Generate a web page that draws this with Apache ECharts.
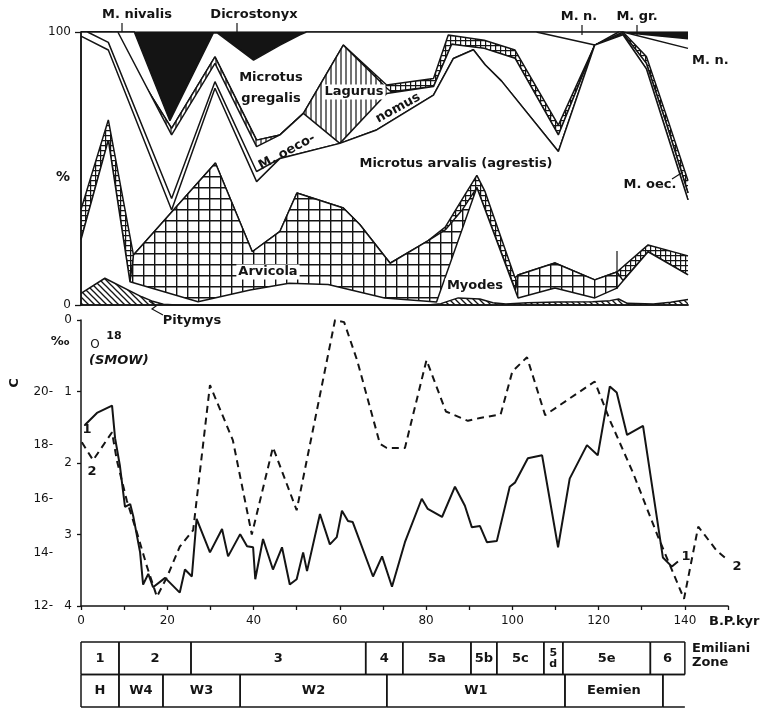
<!DOCTYPE html>
<html>
<head>
<meta charset="utf-8">
<script src="https://cdn.jsdelivr.net/npm/echarts@6/dist/echarts.min.js"></script>
<style>
  html, body { margin: 0; padding: 0; background: #fff; }
  #chart { width: 765px; height: 708px; }
</style>
</head>
<body>
<div id="chart"></div>
<script>
// ---------------------------------------------------------------------------
// Rodent assemblage (cumulative %, upper edge of each taxon) vs age in kyr B.P.
// ---------------------------------------------------------------------------
const cumPitymys = [[0,4.3],[5.5,9.8],[14,3],[16.3,1.5],[19,0.3],[22,0],[80,0],[83,0.5],[87,2.6],[92,2.2],[95,0.8],[98,0.4],[103,0.8],[110,1.1],[118,1.2],[122,1.6],[124,2.2],[126,0.6],[132,0.4],[136,1],[140,2]];
const cumMyodes = [[0,24],[6.3,60.4],[11.3,8.5],[27,1.2],[39,5.5],[48,8],[57,7.5],[70,2.6],[82,1.1],[91.3,43],[100.8,2.6],[109.3,6.2],[118.5,2.6],[123.6,6.2],[130.8,19.5],[140,11]];
const cumArvicola = [[0,24],[6.3,60.4],[11.3,8.5],[12.1,18.3],[31,52],[39.5,19.5],[45.9,27],[49.8,41],[60.5,35.5],[64.3,29.5],[71.3,15.3],[80,23.5],[84,27.5],[88,35],[91.3,43],[100.2,5.5],[100.8,11],[109.3,15.4],[118.5,9.2],[123.6,12.1],[125,9],[130.8,19.5],[140,11]];
const cumArvicolaBand = [[0,35],[6.3,67.8],[12.1,18.3],[31,52],[39.5,19.5],[45.9,27],[49.8,41],[60.5,35.5],[64.3,29.5],[71.3,15.3],[80,23.5],[84,28.5],[88,39],[91.3,47.5],[93.2,41.5],[100.1,10],[100.8,11],[109.3,15.4],[118.5,9.2],[123.6,12.1],[130.8,22],[140,18]];
const cumArvalis = [[0,98.5],[6.3,93.4],[20.9,34.8],[30.9,79.4],[40.5,45.2],[45.9,53.7],[59.7,59.2],[68,64],[81.3,76.9],[85.9,90.3],[90.5,93.5],[93.2,88],[97,82],[110.1,56.2],[118.5,95.2],[125,99],[130.4,86.5],[135.1,63],[140,38.5]];
const cumArvalisRim = [[0,100],[1.5,100],[6.3,96.2],[20.9,39],[30.9,81.8],[40.5,48.9],[45.9,53.7],[59.7,59.2],[68,64],[81.3,76.9],[85.9,90.3],[90.5,93.5],[93.2,88],[97,82],[110.1,56.2],[118.5,95.2],[125,99],[130.4,86.5],[135.1,63],[140,38.5]];
const cumOeconomus = [[0,100],[8.5,100],[20.9,62.3],[30.9,88.5],[40.5,58],[45.9,62.3],[51.3,70.2],[59.7,59.2],[70.5,77.5],[81.3,80],[85.5,95.5],[93,94],[100.1,90.4],[110.1,62.3],[118.5,95.2],[125,99.5],[130.4,88.5],[135.1,66],[140,41]];
const cumLagurus = [[0,100],[7,100],[20.9,64.7],[30.9,90.9],[40.5,60.4],[45.9,62.3],[51.3,70.2],[60.5,95.2],[70.5,79.5],[71.5,78.1],[81.3,80],[85.5,95.5],[93,94],[100.1,90.4],[110.1,62.3],[118.5,95.2],[125,99.5],[130.4,88.5],[135.1,66],[140,41]];
const cumOeconomusBand = [[0,100],[7,100],[20.9,64.7],[30.9,90.9],[40.5,60.4],[45.9,62.3],[51.3,70.2],[60.5,95.2],[70.5,80.6],[81.3,83],[84.7,98.9],[93,97],[100.1,93.4],[110.1,65.9],[118.5,95.2],[125,100],[130.4,91],[135.1,69],[140,45.5]];
const cumGregalis = [[0,100],[12.3,100],[20.5,67.5],[30.5,99.6],[31.5,99.6],[39.8,89.7],[45.9,95.2],[50.5,99],[52,100],[105,100],[118.5,95.2],[124,100],[125,100],[140,94]];
const cumNivalis = [[0,100],[12.3,100],[20.5,67.5],[30.5,99.6],[31.5,99.6],[39.8,89.7],[45.9,95.2],[50.5,99],[52,100],[124,100],[140,97.5]];
const cumDicrostonyx = [[0,100],[140,100]];

// ---------------------------------------------------------------------------
// Curve 1: temperature (deg C); curve 2: delta 18O (per mil, SMOW)
// ---------------------------------------------------------------------------
const tempC = [[0.9,18.75],[3.7,19.2],[7.2,19.47],[7.9,18.26],[9.0,17.25],[10.2,15.7],[11.4,15.8],[12.1,15.36],[13.7,14.0],[14.4,12.8],[15.6,13.2],[16.7,12.7],[19.5,13.05],[22.9,12.5],[24.1,13.36],[25.7,13.1],[26.8,15.25],[29.9,14.0],[32.7,14.87],[34.1,13.85],[36.9,14.68],[38.5,14.23],[39.9,14.19],[40.4,13.0],[42.2,14.5],[44.5,13.36],[46.6,14.19],[48.4,12.8],[50.0,13.0],[51.5,14.0],[52.4,13.3],[55.4,15.43],[57.7,14.3],[59.3,14.57],[60.5,15.55],[61.9,15.17],[63.0,15.13],[67.7,13.1],[69.8,13.85],[72.1,12.72],[75.1,14.38],[79.0,16.0],[80.4,15.62],[83.7,15.32],[86.7,16.45],[89.0,15.74],[90.6,14.94],[92.5,14.98],[94.1,14.38],[96.4,14.42],[99.4,16.45],[100.6,16.6],[103.6,17.51],[106.9,17.62],[110.6,14.19],[113.3,16.75],[117.3,18.0],[119.8,17.62],[122.6,20.19],[124.2,19.96],[126.6,18.38],[130.3,18.72],[134.9,13.81],[137.0,13.47],[138.4,13.66]];
const d18O = [[0.2,1.71],[2.8,1.96],[7.2,1.57],[8.3,1.96],[10.6,2.52],[13.0,2.98],[15.3,3.45],[17.6,3.87],[19.9,3.6],[22.9,3.17],[26.0,2.94],[29.9,0.91],[35.2,1.68],[39.6,3.0],[44.5,1.78],[50.0,2.66],[54.7,1.26],[58.9,0.0],[61.0,0.03],[64.0,0.56],[69.3,1.73],[70.9,1.79],[75.1,1.79],[80.1,0.56],[84.6,1.28],[89.7,1.41],[92.5,1.37],[97.3,1.32],[100.0,0.72],[103.4,0.52],[107.6,1.33],[119.1,0.86],[122.6,1.40],[128.0,2.14],[133.7,3.02],[139.8,3.9],[143.1,2.89],[147.3,3.22],[150,3.36]];

// Emiliani isotope stages and local stratigraphy: [from kyr, to kyr, label]
const emilianiZones = [[0,8.8,'1'],[8.8,25.5,'2'],[25.5,66,'3'],[66,74.6,'4'],[74.6,90.4,'5a'],[90.4,96.4,'5b'],[96.4,107.3,'5c'],[107.3,111.7,'5\nd'],[111.7,132,'5e'],[132,140,'6']];
const localStages = [[0,8.8,'H'],[8.8,19,'W4'],[19,36.9,'W3'],[36.9,70.9,'W2'],[70.9,112.2,'W1'],[112.2,134.9,'Eemien'],[134.9,140,'']];

const kyrTicks = [0,20,40,60,80,100,120,140];

// ---------------------------------------------------------------------------
const INK = '#141414';
const FONT = '"DejaVu Sans", Verdana, sans-serif';
const font = (size, weight = 'bold', style = 'normal') => `${style} ${weight} ${size}px ${FONT}`;

function pattern(w, h, draw) {
  const c = document.createElement('canvas');
  c.width = w; c.height = h;
  const g = c.getContext('2d');
  g.fillStyle = '#fff'; g.fillRect(0, 0, w, h);
  g.strokeStyle = INK;
  draw(g, w, h);
  return { image: c, repeat: 'repeat' };
}
const hatchDiag = pattern(6, 6, (g, w) => {
  g.lineWidth = 1.3;
  for (let k = -1; k <= 1; k++) { g.beginPath(); g.moveTo(-1, -1 + w * k); g.lineTo(w + 1, w + 1 + w * k); g.stroke(); }
});
const hatchGrid = pattern(11, 11, (g) => {
  g.lineWidth = 1.4;
  g.beginPath(); g.moveTo(0.7, 0); g.lineTo(0.7, 11); g.moveTo(0, 0.7); g.lineTo(11, 0.7); g.stroke();
});
const hatchChecker = pattern(5, 5, (g) => {
  g.lineWidth = 1.2;
  g.beginPath(); g.moveTo(0.6, 0); g.lineTo(0.6, 5); g.moveTo(0, 0.6); g.lineTo(5, 0.6); g.stroke();
});
const hatchVert = pattern(5, 5, (g) => {
  g.lineWidth = 1.2;
  g.beginPath(); g.moveTo(1, 0); g.lineTo(1, 5); g.stroke();
});

// cumulative bands: each fills from its upper edge down to 0, later ones paint over
const bands = [
  ['Dicrostonyx', cumDicrostonyx, INK],
  ['M. nivalis', cumNivalis, '#fff'],
  ['M. gregalis', cumGregalis, '#fff'],
  ['M. oeconomus (band)', cumOeconomusBand, hatchChecker],
  ['Lagurus', cumLagurus, hatchVert],
  ['M. oeconomus', cumOeconomus, '#fff'],
  ['M. arvalis rim', cumArvalisRim, '#fff'],
  ['M. arvalis', cumArvalis, '#fff'],
  ['Arvicola (band)', cumArvicolaBand, hatchChecker],
  ['Arvicola', cumArvicola, hatchGrid],
  ['Myodes', cumMyodes, '#fff'],
  ['Pitymys', cumPitymys, hatchDiag]
];

const series = bands.map(([name, data, fill], i) => ({
  type: 'line', name, data, xAxisIndex: 0, yAxisIndex: 0,
  symbol: 'none', silent: true, z: 2 + i,
  lineStyle: { color: INK, width: 1.5 },
  areaStyle: { color: fill, opacity: 1 }
}));

series.push({
  type: 'line', name: 'temperature', data: tempC, xAxisIndex: 2, yAxisIndex: 2,
  symbol: 'none', silent: true, z: 20,
  lineStyle: { color: INK, width: 2 }
});
series.push({
  type: 'line', name: 'delta18O', data: d18O, xAxisIndex: 2, yAxisIndex: 3,
  symbol: 'none', silent: true, z: 20,
  lineStyle: { color: INK, width: 2, type: [7, 5] }
});

function zoneRow(rows, rowIndex) {
  return {
    type: 'custom', xAxisIndex: 3, yAxisIndex: 4, silent: true, z: 20,
    data: rows.map(r => [r[0], r[1], rowIndex]),
    renderItem(params, api) {
      const r = rows[params.dataIndex];
      const p0 = api.coord([api.value(0), api.value(2)]);
      const p1 = api.coord([api.value(1), api.value(2) + 1]);
      const ls = { stroke: INK, lineWidth: 1.5 };
      const kids = [
        { type: 'line', shape: { x1: p0[0], y1: p0[1], x2: p1[0], y2: p0[1] }, style: ls },
        { type: 'line', shape: { x1: p0[0], y1: p1[1], x2: p1[0], y2: p1[1] }, style: ls },
        { type: 'line', shape: { x1: p0[0], y1: p0[1], x2: p0[0], y2: p1[1] }, style: ls }
      ];
      if (r[2] !== '') {
        kids.push({ type: 'line', shape: { x1: p1[0], y1: p0[1], x2: p1[0], y2: p1[1] }, style: ls });
        const small = r[2].indexOf('\n') >= 0;
        kids.push({
          type: 'text', x: (p0[0] + p1[0]) / 2, y: (p0[1] + p1[1]) / 2,
          style: { text: r[2], font: font(small ? 11 : 13), fill: INK, align: 'center', verticalAlign: 'middle', lineHeight: 11 }
        });
      }
      return { type: 'group', children: kids };
    }
  };
}
series.push(zoneRow(emilianiZones, 0));
series.push(zoneRow(localStages, 1));

const axisLineStyle = { color: INK, width: 1.5 };
const noAxis = { axisLine: { show: false }, axisTick: { show: false }, axisLabel: { show: false }, splitLine: { show: false } };

// free text and leader lines
const txt = (text, x, y, size = 13, align = 'center', extra = {}) => ({
  type: 'text', x, y, z: 100, silent: true,
  style: Object.assign({ text, font: font(size), fill: INK, align, verticalAlign: 'middle' }, extra)
});
const seg = (pts) => ({
  type: 'polyline', z: 100, silent: true,
  shape: { points: pts }, style: { stroke: INK, lineWidth: 1.2, fill: null }
});
const boxed = { backgroundColor: '#fff', padding: [1, 2] };

const graphics = [
  txt('M. nivalis', 137, 15), seg([[122, 23], [122, 32]]),
  txt('Dicrostonyx', 254, 15), seg([[237, 23], [237, 32]]),
  txt('M. n.', 579, 17), seg([[582, 25], [582, 35]]),
  txt('M. gr.', 637, 17), seg([[637, 25], [637, 35]]),
  txt('M. n.', 692, 61, 13, 'left'),
  txt('Microtus', 271, 78), txt('gregalis', 271, 99),
  txt('Lagurus', 354, 92, 13, 'center', boxed),
  Object.assign(txt('M. oeco-', 0, 0, 13), { x: 287, y: 152, rotation: 0.5 }),
  Object.assign(txt('nomus', 0, 0, 13), { x: 398, y: 108, rotation: 0.5 }),
  txt('Microtus arvalis (agrestis)', 456, 164),
  txt('%', 63, 177, 14),
  txt('M. oec.', 650, 185), seg([[672, 179], [683, 172]]),
  txt('Arvicola', 268, 272, 13, 'center', boxed),
  txt('Myodes', 475, 286, 13, 'center', boxed),
  txt('Pitymys', 192, 321), seg([[149, 301], [156, 306], [152, 309], [163, 315]]),
  seg([[617, 251], [617, 289]]),
  txt('‰', 60, 342, 13),
  txt('O', 95, 345, 12, 'center', { font: font(12, 'normal') }),
  txt('18', 114, 336, 11),
  txt('(SMOW)', 89, 361, 13, 'left', { font: font(13, 'bold', 'italic') }),
  Object.assign(txt('C', 0, 0, 13), { x: 15, y: 383, rotation: Math.PI / 2 }),
  txt('1', 87, 430), txt('2', 92, 472),
  txt('1', 686, 557), txt('2', 737, 567),
  txt('B.P.kyr', 709, 622, 13, 'left'),
  txt('Emiliani', 692, 649, 13, 'left'),
  txt('Zone', 692, 663, 13, 'left')
];

const chart = echarts.init(document.getElementById('chart'), null, { renderer: 'canvas' });
chart.setOption({
  animation: false,
  backgroundColor: '#fff',
  textStyle: { fontFamily: FONT, color: INK },
  grid: [
    { left: 81, top: 32, width: 607, height: 273, containLabel: false, outerBoundsMode: 'none' },
    { left: 81, top: 320, width: 647, height: 286, containLabel: false, outerBoundsMode: 'none' },
    { left: 81, top: 642, width: 647, height: 65, containLabel: false, outerBoundsMode: 'none' }
  ],
  xAxis: [
    Object.assign({ gridIndex: 0, type: 'value', min: 0, max: 140, position: 'bottom', z: 50 }, noAxis, { axisLine: { show: true, lineStyle: axisLineStyle } }),
    Object.assign({ gridIndex: 0, type: 'value', min: 0, max: 140, position: 'top', z: 50 }, noAxis, { axisLine: { show: true, lineStyle: axisLineStyle } }),
    {
      gridIndex: 1, type: 'value', min: 0, max: 150, interval: 10, position: 'bottom', z: 50,
      axisLine: { show: true, onZero: false, lineStyle: axisLineStyle },
      axisTick: { show: true, length: 4, lineStyle: { color: INK, width: 1.3 } },
      axisLabel: { margin: 9, font: font(13), color: INK, formatter: v => (kyrTicks.indexOf(v) >= 0 ? String(v) : '') },
      splitLine: { show: false }
    },
    Object.assign({ gridIndex: 2, type: 'value', min: 0, max: 150, show: false }, noAxis)
  ],
  yAxis: [
    {
      gridIndex: 0, type: 'value', min: 0, max: 100, interval: 100, position: 'left', z: 50,
      axisLine: { show: true, lineStyle: axisLineStyle },
      axisTick: { show: true, length: 6, lineStyle: { color: INK, width: 1.3 } },
      axisLabel: { margin: 10, font: font(13), color: INK },
      splitLine: { show: false }
    },
    Object.assign({ gridIndex: 0, type: 'value', min: 0, max: 100, position: 'right', z: 50 }, noAxis, { axisLine: { show: true, lineStyle: axisLineStyle } }),
    {
      gridIndex: 1, type: 'value', min: 12, max: 12 + 8 * 4 / 3, interval: 2, position: 'left',
      axisLine: { show: false }, axisTick: { show: false }, splitLine: { show: false },
      axisLabel: { margin: 28, font: font(13), color: INK, showMaxLabel: false, formatter: v => (v <= 20 ? v + '-' : '') }
    },
    {
      gridIndex: 1, type: 'value', min: 0, max: 4, interval: 1, inverse: true, position: 'left', z: 50,
      axisLine: { show: true, onZero: false, lineStyle: axisLineStyle },
      axisTick: { show: true, length: 4, lineStyle: { color: INK, width: 1.3 } },
      axisLabel: { margin: 9, font: font(13), color: INK },
      splitLine: { show: false }
    },
    Object.assign({ gridIndex: 2, type: 'value', min: 0, max: 2, inverse: true, show: false }, noAxis)
  ],
  series,
  graphic: { elements: graphics }
});
</script>
</body>
</html>
